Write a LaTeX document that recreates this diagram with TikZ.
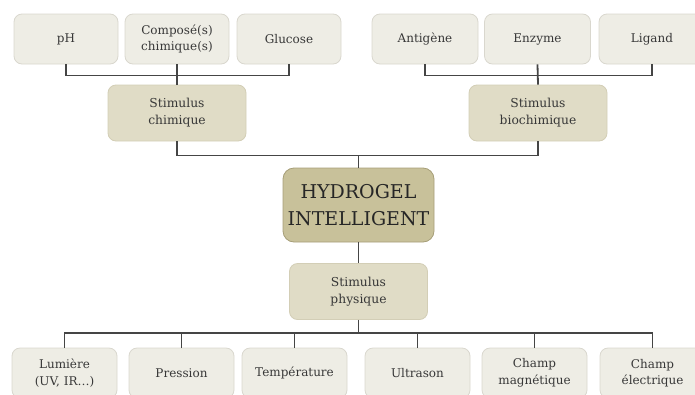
\documentclass[tikz,border=0pt]{standalone}
\usepackage{fontspec}
\setmainfont{DejaVu Serif}
\usetikzlibrary{positioning}
\definecolor{leafbg}{HTML}{EEEDE5}
\definecolor{leafline}{HTML}{D9D7CE}
\definecolor{stimbg}{HTML}{E0DCC6}
\definecolor{stimline}{HTML}{D3CEB6}
\definecolor{corebg}{HTML}{C8C19A}
\definecolor{coreline}{HTML}{A69E78}
\definecolor{wire}{HTML}{454545}
\tikzset{
  base/.style = {
    rectangle, rounded corners=8pt, line width=0.8pt,
    text centered, align=center, text=black!78, inner sep=2pt
  },
  leaf/.style = {
    base, fill=leafbg, draw=leafline,
    minimum width=104pt, minimum height=50pt,
    font=\fontsize{12}{16.5}\selectfont
  },
  stimulus/.style = {
    base, fill=stimbg, draw=stimline,
    minimum width=138pt, minimum height=56pt,
    font=\fontsize{12.3}{17}\selectfont
  },
  hydrogel/.style = {
    base, fill=corebg, draw=coreline, rounded corners=11pt,
    minimum width=151pt, minimum height=74pt,
    font=\fontsize{19}{27}\selectfont, text=black!85
  },
  wire/.style = {draw=wire, line width=1.8pt},
}
\begin{document}
\begin{tikzpicture}
  \useasboundingbox (0pt,0pt) rectangle (695pt,-394pt);
  % centre
  \node (hydro) [hydrogel] at (358.5pt,-205pt) {HYDROGEL\\INTELLIGENT};
  \node (chim) [stimulus] at (177pt,-113pt) {Stimulus\\chimique};
  \node (bio) [stimulus] at (538pt,-113pt) {Stimulus\\biochimique};
  \node (phys) [stimulus, below of=hydro, node distance=86.5pt] {Stimulus\\physique};
  % top row
  \node (ph) [leaf] at (66pt,-39pt) {pH};
  \node (comp) [leaf, right of=ph, node distance=111pt] {Composé(s)\\chimique(s)};
  \node (gluc) [leaf, right of=comp, node distance=112pt] {Glucose};
  \node (anti) [leaf, right of=gluc, node distance=136pt, minimum width=106pt] {Antigène};
  \node (enz) [leaf, right of=anti, node distance=112.5pt, minimum width=106pt] {Enzyme};
  \node (lig) [leaf, right of=enz, node distance=114.5pt, minimum width=106pt] {Ligand};
  % bottom row
  \node (lum) [leaf, minimum width=105pt] at (64.5pt,-373pt) {Lumière\\(UV, IR…)};
  \node (pres) [leaf, minimum width=105pt, right of=lum, node distance=117pt] {Pression};
  \node (temp) [leaf, minimum width=105pt, right of=pres, node distance=113pt] {Température};
  \node (ultra) [leaf, minimum width=105pt, right of=temp, node distance=123pt] {Ultrason};
  \node (magn) [leaf, minimum width=105pt, right of=ultra, node distance=117pt] {Champ\\magnétique};
  \node (elec) [leaf, minimum width=105pt, right of=magn, node distance=118pt] {Champ\\électrique};
  % connectors
  \draw[wire] (ph.south) -- ++(0,-11pt) -| (gluc.south);
  \draw[wire] (comp.south) -- (chim.north);
  \draw[wire] (anti.south) -- ++(0,-11pt) -| (lig.south);
  \draw[wire] (enz.south) -- (bio.north);
  \draw[wire] (chim.south) -- ++(0,-14pt) coordinate (jtop) -| (bio.south);
  \draw[wire] (hydro.north) -- (hydro.north |- jtop);
  \draw[wire] (hydro.south) -- (phys.north);
  \draw[wire] (lum.north) -- ++(0,15pt) coordinate (jbot) -| (elec.north);
  \draw[wire] (phys.south) -- (phys.south |- jbot);
  \foreach \n in {pres, temp, ultra, magn}
    \draw[wire] (\n.north) -- (\n.north |- jbot);
\end{tikzpicture}
\end{document}
